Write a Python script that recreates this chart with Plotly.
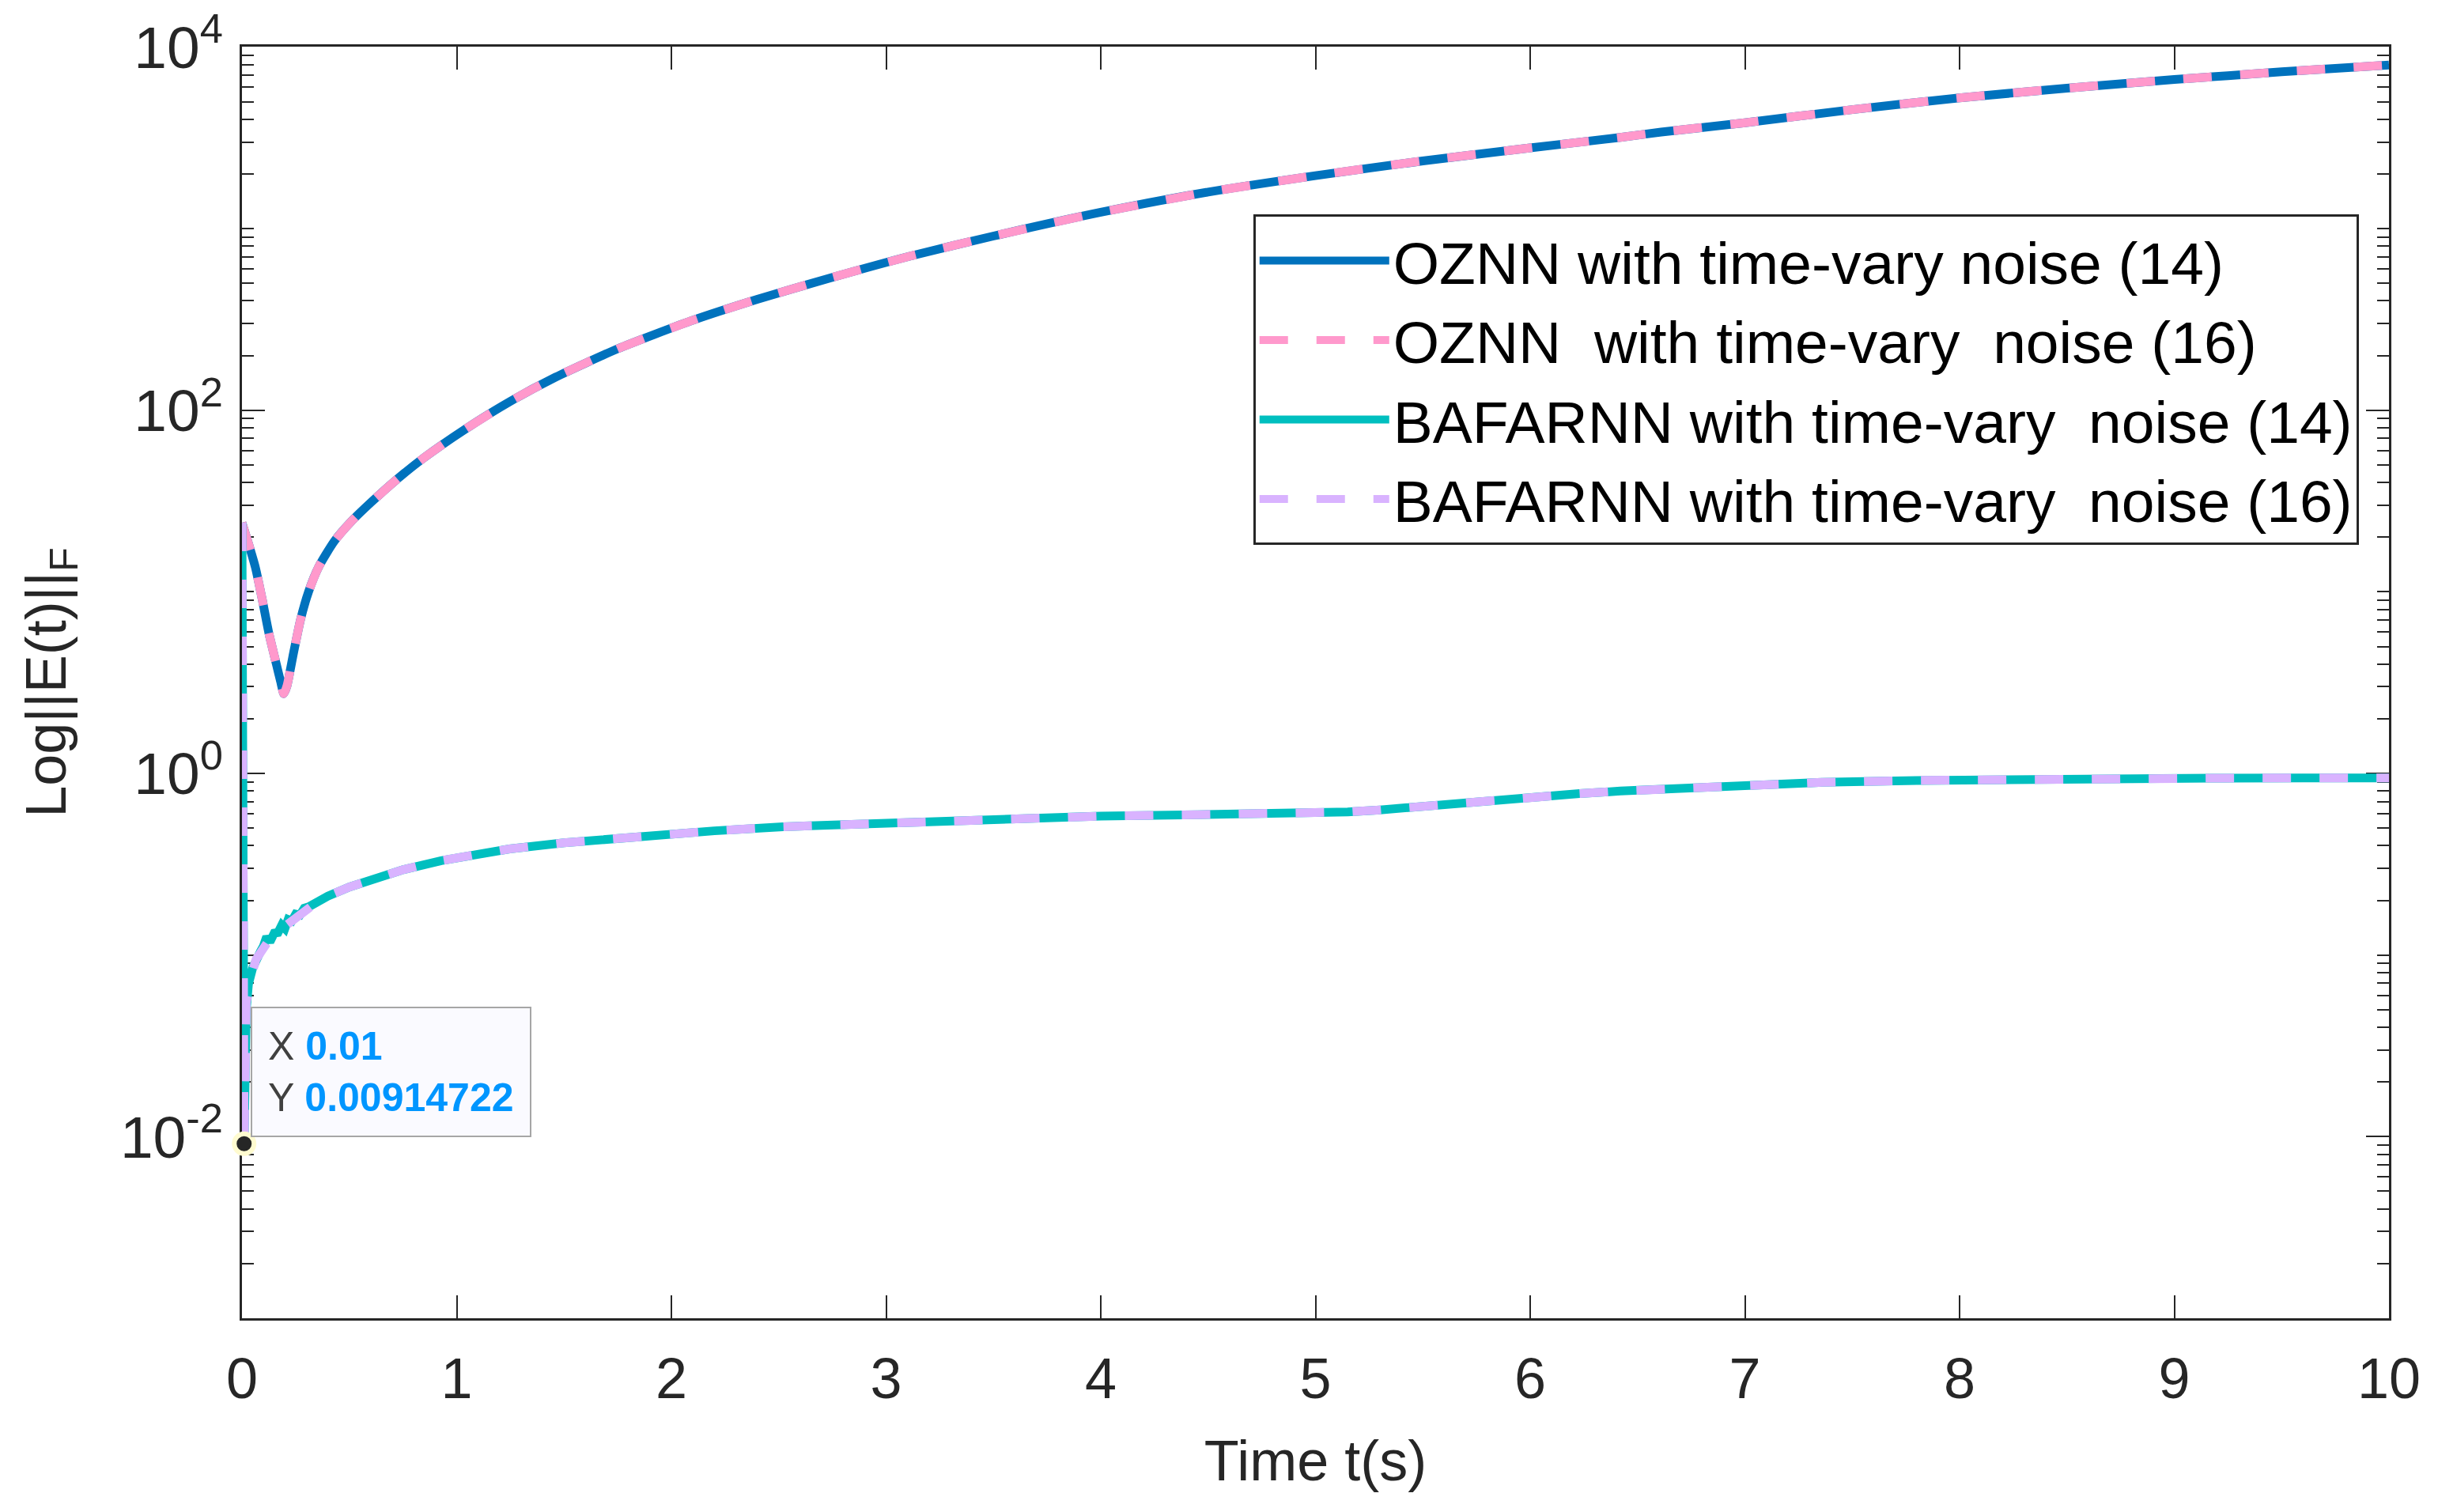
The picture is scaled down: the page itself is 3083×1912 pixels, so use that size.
import plotly.graph_objects as go
import math

# ---------------- data ----------------
t_oznn = [0, 0.03, 0.062, 0.095, 0.125, 0.16, 0.18, 0.195, 0.21, 0.24, 0.273, 0.31,
          0.357, 0.43, 0.506, 0.6, 0.718, 0.85, 1.035, 1.25, 1.46, 1.75, 2.09, 2.4,
          2.74, 3.11, 3.5, 4.0, 4.5, 5.0, 5.5, 6.0, 6.42, 6.61, 7.0, 7.5, 8.0, 8.5,
          9.0, 9.5, 10.0]
e_oznn14 = [24.0, 18.5, 13.7, 9.0, 5.94, 4.0, 3.2, 2.75, 3.05, 4.6, 7.05, 10.0,
            13.7, 19.0, 24.2, 31.0, 41.3, 55.0, 78.0, 112.0, 152.0, 218.0, 310.0, 408.0,
            535.0, 705.0, 910.0, 1230.0, 1590.0, 1958.0, 2360.0, 2782.0, 3180.0, 3400.0, 3830.0, 4520.0, 5250.0, 5930.0,
            6620.0, 7300.0, 7960.0]
e_oznn16 = list(e_oznn14)

t_baf = [0, 0.01, 0.02, 0.03, 0.05, 0.066, 0.085, 0.1, 0.115, 0.13, 0.15, 0.168, 0.185,
         0.2, 0.215, 0.232, 0.25, 0.27, 0.29, 0.31, 0.35, 0.4, 0.5, 0.61, 0.75, 0.928,
         1.1, 1.246, 1.5, 1.88, 2.2, 2.52, 2.9, 3.29, 3.6, 4.0, 4.45, 4.75, 5.0, 5.15, 5.3, 5.45,
         5.6, 5.8, 6.0, 6.23, 6.42, 6.61, 7.0, 7.36, 7.8, 8.3, 8.8, 9.24, 9.6, 10.0]
e_baf14 = [24.0, 0.00914722, 0.05, 0.069, 0.085, 0.097, 0.104, 0.112, 0.126, 0.118, 0.132, 0.133, 0.146,
           0.14, 0.157, 0.154, 0.168, 0.166, 0.181, 0.184, 0.197, 0.211, 0.237, 0.261, 0.295, 0.331,
           0.36, 0.384, 0.415, 0.454, 0.483, 0.509, 0.53, 0.551, 0.566, 0.582, 0.593, 0.598, 0.605, 0.614, 0.630, 0.652,
           0.678, 0.714, 0.745, 0.774, 0.80, 0.818, 0.86, 0.893, 0.915, 0.932, 0.94, 0.943, 0.944, 0.945]
e_baf16 = [24.0, 0.00914722, 0.055, 0.066, 0.082, 0.095, 0.104, 0.11, 0.117, 0.123, 0.13, 0.135, 0.14,
           0.146, 0.151, 0.157, 0.163, 0.169, 0.175, 0.182, 0.196, 0.211, 0.237, 0.261, 0.295, 0.331,
           0.36, 0.384, 0.415, 0.454, 0.483, 0.509, 0.53, 0.551, 0.566, 0.582, 0.593, 0.598, 0.605, 0.614, 0.630, 0.652,
           0.678, 0.714, 0.745, 0.774, 0.80, 0.818, 0.86, 0.893, 0.915, 0.932, 0.94, 0.943, 0.944, 0.945]

names = ["OZNN with time-vary noise (14)",
         "OZNN  with time-vary  noise (16)",
         "BAFARNN with time-vary  noise (14)",
         "BAFARNN with time-vary  noise (16)"]

tip_x = 0.01
tip_y = 0.00914722

x_ticks = list(range(0, 11))
y_tick_exps = [-2, 0, 2, 4]

# ---------------- styling ----------------
FONT = "Liberation Sans, Arial, Helvetica, sans-serif"
AX = "#262626"
C_BLUE = "#0072BD"
C_PINK = "#FF99CC"
C_TEAL = "#00BFBF"
C_PURP = "#D9B3FF"
LW = 11
DASH = "36px,36px"

fig = go.Figure()
fig.add_trace(go.Scatter(x=t_oznn, y=e_oznn14, mode="lines", name=names[0],
                         line=dict(color=C_BLUE, width=LW, shape="spline", smoothing=0.6)))
fig.add_trace(go.Scatter(x=t_oznn, y=e_oznn16, mode="lines", name=names[1],
                         line=dict(color=C_PINK, width=LW, dash=DASH, shape="spline", smoothing=0.6)))
fig.add_trace(go.Scatter(x=t_baf, y=e_baf14, mode="lines", name=names[2],
                         line=dict(color=C_TEAL, width=LW)))
fig.add_trace(go.Scatter(x=t_baf, y=e_baf16, mode="lines", name=names[3],
                         line=dict(color=C_PURP, width=LW, dash=DASH)))
# data tip marker
fig.add_trace(go.Scatter(x=[tip_x], y=[tip_y], mode="markers", showlegend=False,
                         hoverinfo="skip", cliponaxis=False,
                         marker=dict(size=25, color="#262626",
                                     line=dict(color="#FFFBD0", width=6))))

tip_text = ("X <b><span style='color:#0096FF'>%s</span></b><br>"
            "Y <b><span style='color:#0096FF'>%s</span></b>" % (f"{tip_x:g}", f"{tip_y:.8g}"))
fig.add_annotation(x=tip_x, y=math.log10(tip_y), xref="x", yref="y",
                   text=tip_text, showarrow=False, align="left",
                   xanchor="left", yanchor="bottom", xshift=8, yshift=8,
                   font=dict(family=FONT, size=50, color="#404040"),
                   bgcolor="#FAFAFF", bordercolor="#A6A6A6", borderwidth=2,
                   borderpad=20)

fig.update_layout(
    width=3083, height=1912,
    paper_bgcolor="white", plot_bgcolor="white",
    margin=dict(l=306, r=62, t=59, b=245, autoexpand=False),
    font=dict(family=FONT, size=72, color=AX),
    showlegend=True,
    legend=dict(x=0.471, y=0.868, xanchor="left", yanchor="top",
                bgcolor="white", bordercolor=AX, borderwidth=3,
                font=dict(family=FONT, size=75, color="black"),
                itemwidth=164, tracegroupgap=0,
                itemsizing="trace"),
    hovermode=False,
)

fig.update_xaxes(
    range=[0, 10], tickvals=x_ticks, ticktext=[str(v) for v in x_ticks],
    showgrid=False, zeroline=False, layer="below traces", automargin=False,
    showline=True, linecolor=AX, linewidth=3, mirror="allticks",
    ticks="inside", ticklen=29, tickwidth=2, tickcolor=AX,
    ticklabelstandoff=12, ticklabeloverflow="allow",
    tickfont=dict(family=FONT, size=72, color=AX),
    title=dict(text="Time t(s)", font=dict(family=FONT, size=72, color=AX), standoff=40),
)
fig.update_yaxes(
    type="log", range=[-3, 4.002],
    tickvals=[10.0 ** e for e in y_tick_exps],
    ticktext=["10<sup>%d</sup>" % e for e in y_tick_exps],
    showgrid=False, zeroline=False, layer="below traces", automargin=False,
    showline=True, linecolor=AX, linewidth=3, mirror="allticks",
    ticks="inside", ticklen=29, tickwidth=2, tickcolor=AX,
    ticklabeloverflow="allow", ticklabelstandoff=6,
    tickfont=dict(family=FONT, size=75, color=AX),
    minor=dict(ticks="inside", ticklen=15, tickwidth=2, tickcolor=AX, dtick="D1"),
    title=dict(text="Log||E(t)||<sub>F</sub>", font=dict(family=FONT, size=72, color=AX), standoff=45),
)

# remove the default 8px page margin so the figure sits at the window origin
fig.write_html("out.html", config={"displayModeBar": False},
               post_script="document.body.style.margin='0';")
